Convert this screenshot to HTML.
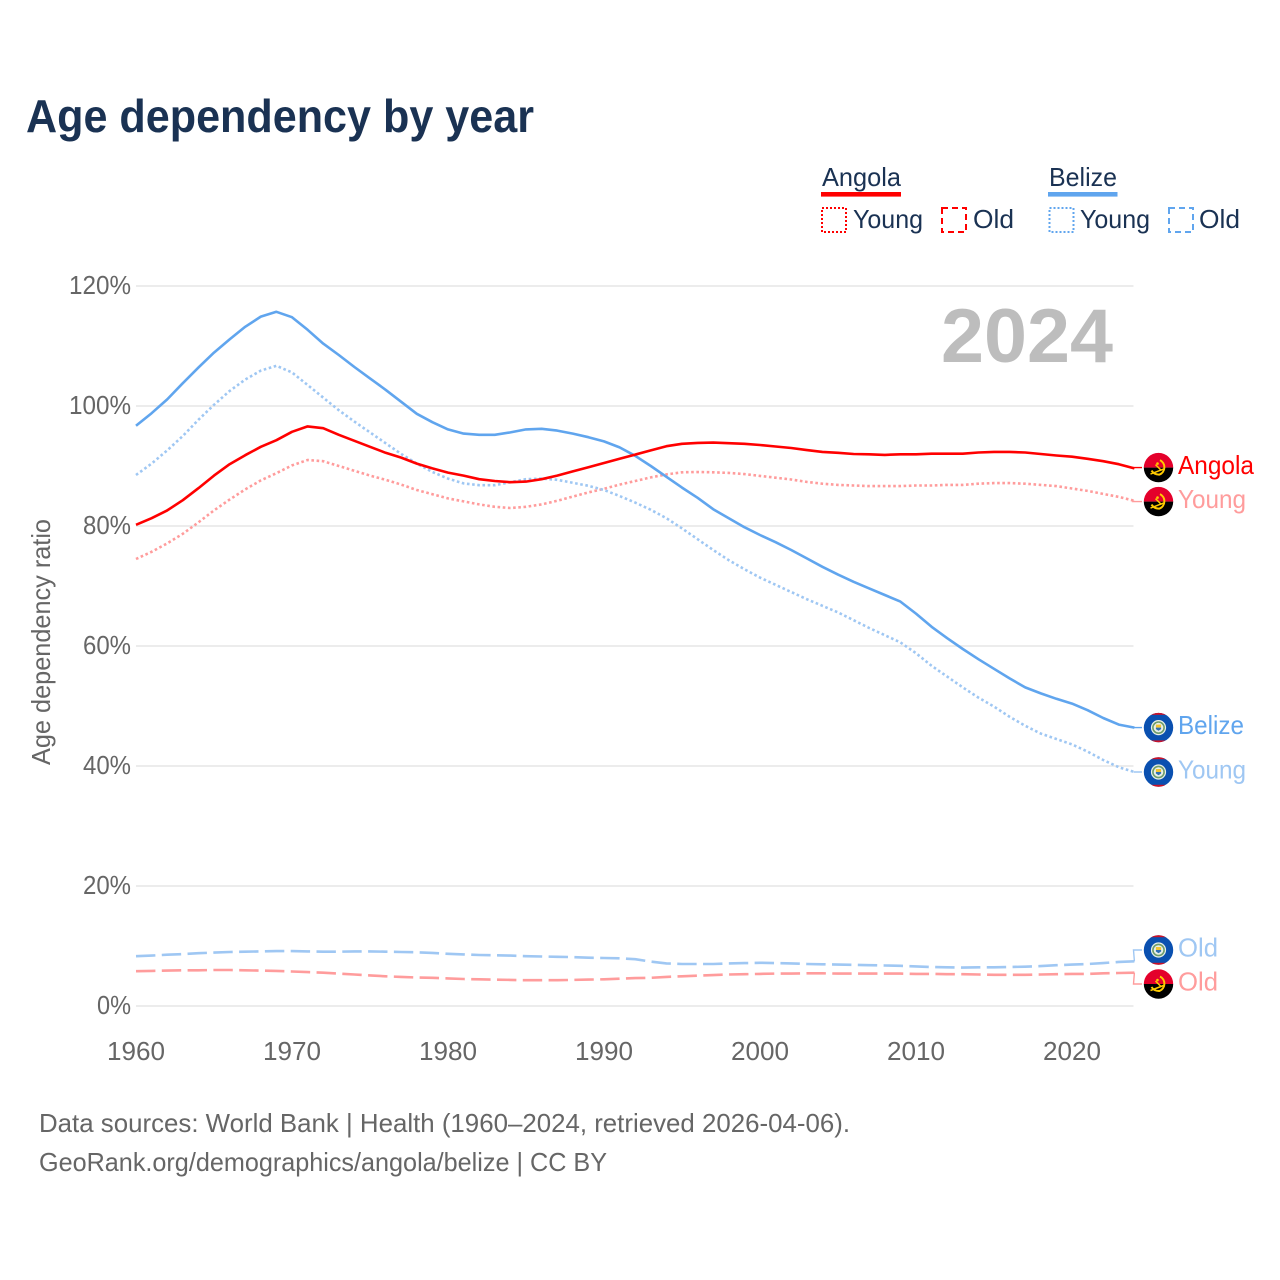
<!DOCTYPE html>
<html lang="en">
<head>
<meta charset="utf-8">
<title>Age dependency by year</title>
<style>
html,body{margin:0;padding:0;background:#fff;}
svg{display:block;font-family:"Liberation Sans",sans-serif;}
</style>
</head>
<body>
<svg id="chart" xmlns="http://www.w3.org/2000/svg" width="1280" height="1280" viewBox="0 0 1280 1280">
  <defs>
    <clipPath id="flag-clip"><circle cx="0" cy="0" r="14.7"/></clipPath>
  </defs>
  <rect x="0" y="0" width="1280" height="1280" fill="#fff"/>
  <text x="26" y="132" font-size="46" font-weight="700" fill="#1a3253" textLength="508" lengthAdjust="spacingAndGlyphs">Age dependency by year</text>

  <g font-size="26" fill="#1a3253">
    <text x="822" y="186" textLength="79" lengthAdjust="spacingAndGlyphs">Angola</text>
    <rect x="821" y="192" width="80" height="4.6" fill="#ff0000"/>
    <rect x="822" y="208" width="24" height="24" fill="none" stroke="#ff0000" stroke-width="2" stroke-dasharray="2 2"/>
    <text x="853" y="228" textLength="70" lengthAdjust="spacingAndGlyphs">Young</text>
    <rect x="942" y="208" width="24" height="24" fill="none" stroke="#ff0000" stroke-width="2" stroke-dasharray="6 4"/>
    <text x="973" y="228" textLength="41" lengthAdjust="spacingAndGlyphs">Old</text>

    <text x="1049" y="186" textLength="68" lengthAdjust="spacingAndGlyphs">Belize</text>
    <rect x="1048" y="192" width="69.5" height="4.6" fill="#60a5ee"/>
    <rect x="1049.5" y="208" width="24" height="24" fill="none" stroke="#60a5ee" stroke-width="2" stroke-dasharray="2 2"/>
    <text x="1080" y="228" textLength="70" lengthAdjust="spacingAndGlyphs">Young</text>
    <rect x="1169" y="208" width="24" height="24" fill="none" stroke="#60a5ee" stroke-width="2" stroke-dasharray="6 4"/>
    <text x="1199" y="228" textLength="41" lengthAdjust="spacingAndGlyphs">Old</text>
  </g>

  <g id="grid"></g>
  <g id="y-ticks"></g>
  <g id="x-ticks"></g>
  <text transform="translate(50,642) rotate(-90)" text-anchor="middle" font-size="26" fill="#666" textLength="246" lengthAdjust="spacingAndGlyphs">Age dependency ratio</text>
  <text x="941" y="362" font-size="76" font-weight="700" fill="#bdbdbd" textLength="172" lengthAdjust="spacingAndGlyphs">2024</text>
  <g id="series"></g>
  <g id="end-labels"></g>

  <g font-size="26" fill="#666">
    <text x="39" y="1132" textLength="811" lengthAdjust="spacingAndGlyphs">Data sources: World Bank | Health (1960–2024, retrieved 2026-04-06).</text>
    <text x="39" y="1171" textLength="568" lengthAdjust="spacingAndGlyphs">GeoRank.org/demographics/angola/belize | CC BY</text>
  </g>
</svg>
<script>
var startYear = 1960;
var yTickValues = [0, 20, 40, 60, 80, 100, 120];
var xTickYears = [1960, 1970, 1980, 1990, 2000, 2010, 2020];

var angolaTotal = [80.2,81.3,82.6,84.3,86.3,88.4,90.3,91.8,93.2,94.3,95.7,96.6,96.3,95.2,94.2,93.2,92.2,91.4,90.4,89.6,88.9,88.4,87.8,87.5,87.3,87.4,87.8,88.4,89.1,89.8,90.5,91.2,91.9,92.6,93.3,93.7,93.85,93.9,93.8,93.7,93.5,93.25,93.0,92.65,92.35,92.2,92.0,91.95,91.85,91.95,91.95,92.05,92.05,92.05,92.25,92.35,92.35,92.25,92.0,91.75,91.55,91.2,90.8,90.3,89.6];
var angolaYoung = [74.5,75.7,77.1,78.7,80.6,82.6,84.4,86.1,87.6,88.8,90.1,91.0,90.8,90.0,89.2,88.4,87.7,86.9,86.0,85.3,84.6,84.1,83.6,83.2,83.0,83.2,83.6,84.2,84.9,85.6,86.2,86.9,87.5,88.1,88.6,88.95,89.0,88.95,88.85,88.65,88.35,88.05,87.75,87.35,87.05,86.85,86.75,86.65,86.65,86.65,86.75,86.75,86.85,86.85,87.05,87.15,87.15,87.05,86.85,86.65,86.25,85.85,85.35,84.85,84.2];
var angolaOld = [5.8,5.85,5.9,5.95,5.95,6.0,6.0,5.95,5.9,5.85,5.75,5.65,5.55,5.4,5.25,5.1,4.95,4.85,4.75,4.7,4.6,4.5,4.45,4.4,4.35,4.3,4.3,4.3,4.35,4.4,4.45,4.55,4.65,4.7,4.85,4.95,5.05,5.15,5.25,5.3,5.35,5.4,5.4,5.45,5.45,5.4,5.4,5.4,5.4,5.4,5.35,5.35,5.3,5.3,5.25,5.2,5.2,5.2,5.25,5.3,5.35,5.35,5.45,5.5,5.55];
var belizeTotal = [96.7,98.8,101.1,103.8,106.4,108.9,111.1,113.2,114.9,115.7,114.8,112.7,110.4,108.5,106.5,104.6,102.7,100.7,98.7,97.3,96.1,95.4,95.2,95.2,95.6,96.1,96.2,95.9,95.4,94.8,94.1,93.1,91.7,90.0,88.2,86.4,84.7,82.8,81.3,79.8,78.5,77.3,76.0,74.6,73.2,71.9,70.7,69.6,68.5,67.4,65.4,63.2,61.3,59.5,57.8,56.2,54.6,53.1,52.1,51.2,50.4,49.3,48.0,46.9,46.4];
var belizeYoung = [88.5,90.4,92.6,95.0,97.7,100.2,102.5,104.4,105.9,106.7,105.6,103.5,101.4,99.3,97.4,95.6,93.8,92.0,90.4,89.0,87.9,87.1,86.8,86.8,87.3,87.8,87.9,87.7,87.2,86.7,86.0,85.0,83.9,82.7,81.3,79.6,77.8,76.0,74.3,72.8,71.4,70.2,69.0,67.8,66.7,65.6,64.3,63.0,61.8,60.6,58.8,56.7,54.9,53.1,51.4,49.9,48.2,46.7,45.4,44.5,43.6,42.4,41.0,39.8,39.0];
var belizeOld = [8.3,8.4,8.55,8.65,8.8,8.9,9.0,9.05,9.1,9.15,9.15,9.1,9.05,9.05,9.1,9.1,9.05,9.0,8.95,8.85,8.7,8.6,8.5,8.45,8.4,8.3,8.25,8.2,8.15,8.05,8.0,7.95,7.8,7.4,7.1,7.0,7.0,7.0,7.1,7.15,7.2,7.15,7.1,7.0,6.95,6.9,6.85,6.8,6.75,6.7,6.6,6.5,6.45,6.4,6.45,6.45,6.5,6.55,6.65,6.8,6.9,7.0,7.15,7.35,7.45];

var NS = 'http://www.w3.org/2000/svg';
function xScale(year) { return 136 + (year - 1960) * 15.6; }
function yScale(v) { return 1006 - v * 6; }
function make(tag, attrs, parent) {
  var n = document.createElementNS(NS, tag);
  for (var k in attrs) n.setAttribute(k, attrs[k]);
  if (parent) parent.appendChild(n);
  return n;
}

var gridG = document.getElementById('grid');
var yG = document.getElementById('y-ticks');
yTickValues.forEach(function (v) {
  var line = make('line', {x1: 136, x2: 1133.5, y1: yScale(v), y2: yScale(v), stroke: '#ececec', 'stroke-width': 2}, gridG);
  
  
  var t = make('text', {x: 131, y: yScale(v) + 8, 'text-anchor': 'end', 'font-size': 26, fill: '#666'}, yG);
  
  
  t.textContent = v + '%';
  var chars = String(v).length + 1;
  t.setAttribute('textLength', chars === 2 ? 34 : chars === 3 ? 48 : 62);
  t.setAttribute('lengthAdjust', 'spacingAndGlyphs');
});

var xG = document.getElementById('x-ticks');
xTickYears.forEach(function (yr) {
  var t = make('text', {x: xScale(yr), y: 1060, 'text-anchor': 'middle', 'font-size': 26, fill: '#666', textLength: 58, lengthAdjust: 'spacingAndGlyphs'}, xG);
  
  
  t.textContent = yr;
});

var RED = '#ff0000', RED_L = '#ff9c9c', BLUE = '#60a5ee', BLUE_L = '#9fc7f3';
var DOT = '2.6 2.6', DASH = '19.4 6.4';
var seriesList = [
  {key: 'belize-old', label: 'Old', values: belizeOld, color: BLUE_L, dash: DASH, flag: 'belize', textWidth: 40},
  {key: 'angola-old', label: 'Old', values: angolaOld, color: RED_L, dash: DASH, flag: 'angola', textWidth: 40},
  {key: 'angola-young', label: 'Young', values: angolaYoung, color: RED_L, dash: DOT, flag: 'angola', textWidth: 68},
  {key: 'belize-young', label: 'Young', values: belizeYoung, color: BLUE_L, dash: DOT, flag: 'belize', textWidth: 68},
  {key: 'belize-total', label: 'Belize', values: belizeTotal, color: BLUE, dash: '', flag: 'belize', textWidth: 66},
  {key: 'angola-total', label: 'Angola', values: angolaTotal, color: RED, dash: '', flag: 'angola', textWidth: 76}
];

var seriesG = document.getElementById('series');
seriesList.forEach(function (s) {
  var d = s.values.map(function (v, i) {
    return (i ? 'L' : 'M') + xScale(startYear + i).toFixed(2) + ' ' + yScale(v).toFixed(2);
  }).join(' ');
  var attrs = {d: d, fill: 'none', stroke: s.color, 'stroke-width': 2.6, 'stroke-linejoin': 'round'};
  if (s.dash) attrs['stroke-dasharray'] = s.dash;
  var path = make('path', attrs, seriesG);
  
  
});

/* End labels: spread pairs that would collide, around their midpoint */
var MIN_GAP = 34;
var ends = seriesList.map(function (s) {
  var endY = yScale(s.values[s.values.length - 1]);
  return {s: s, endY: endY, labelY: endY};
}).sort(function (a, b) { return a.endY - b.endY; });
for (var i = 0; i < ends.length - 1; i++) {
  var gap = ends[i + 1].labelY - ends[i].labelY;
  if (gap < MIN_GAP) {
    var mid = (ends[i].labelY + ends[i + 1].labelY) / 2;
    ends[i].labelY = mid - MIN_GAP / 2;
    ends[i + 1].labelY = mid + MIN_GAP / 2;
  }
}

function drawAngolaFlag(g) {
  var clip = make('g', {'clip-path': 'url(#flag-clip)'}, g);
  make('rect', {x: -16, y: -16, width: 32, height: 16, fill: '#e4002b'}, clip);
  make('rect', {x: -16, y: 0, width: 32, height: 16, fill: '#000'}, clip);
  make('path', {d: 'M1.5 -7.5 A8 8 0 0 1 1 7 A9 9 0 0 1 -7 3', fill: 'none', stroke: '#ffcb00', 'stroke-width': 2}, clip);
  make('path', {d: 'M-8 6.5 L5 1.5 M-3 -3 L3 3', fill: 'none', stroke: '#ffcb00', 'stroke-width': 1.5}, clip);
  make('circle', {cx: -1, cy: -4, r: 1.3, fill: '#ffcb00'}, clip);
}
function drawBelizeFlag(g) {
  var clip = make('g', {'clip-path': 'url(#flag-clip)'}, g);
  make('rect', {x: -16, y: -16, width: 32, height: 32, fill: '#0a50b0'}, clip);
  make('rect', {x: -16, y: -16, width: 32, height: 3.2, fill: '#ce1126'}, clip);
  make('rect', {x: -16, y: 12.8, width: 32, height: 3.2, fill: '#ce1126'}, clip);
  make('circle', {cx: 0, cy: 0, r: 7.6, fill: '#e8efe8'}, clip);
  make('circle', {cx: 0, cy: 0, r: 5.6, fill: 'none', stroke: '#6d9c6b', 'stroke-width': 1.6}, clip);
  make('rect', {x: -2.6, y: -3, width: 5.2, height: 3, fill: '#f4c430'}, clip);
  make('path', {d: 'M-2.6 0 H2.6 V1.5 L0 3.2 L-2.6 1.5 Z', fill: '#2e6fb5'}, clip);
}

var labelsG = document.getElementById('end-labels');
ends.forEach(function (e) {
  var s = e.s;
  var endX = xScale(startYear + s.values.length - 1);
  var bend = 1133.5;
  var conn = make('path', {
    d: 'M' + endX.toFixed(1) + ' ' + e.endY.toFixed(1) + ' L' + bend + ' ' + e.labelY.toFixed(1) + ' L1142 ' + e.labelY.toFixed(1),
    fill: 'none', stroke: s.color, 'stroke-width': 1.4
  }, labelsG);
  
  

  var flag = make('g', {transform: 'translate(1158.5,' + e.labelY.toFixed(1) + ')'}, labelsG);
  
  
  if (s.flag === 'angola') drawAngolaFlag(flag); else drawBelizeFlag(flag);

  var t = make('text', {x: 1178, y: (e.labelY + 6.5).toFixed(1), 'font-size': 26, fill: s.color, textLength: s.textWidth, lengthAdjust: 'spacingAndGlyphs'}, labelsG);
  
  
  t.textContent = s.label;
});
</script>
</body>
</html>
